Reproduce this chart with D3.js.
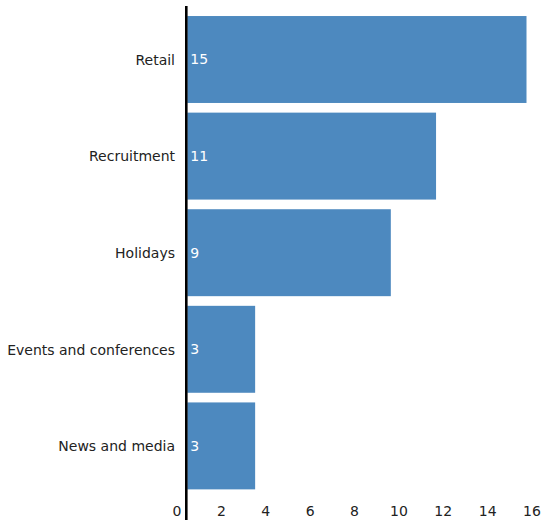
<!DOCTYPE html>
<html>
<head>
<meta charset="utf-8">
<script src="https://cdn.jsdelivr.net/npm/d3@7"></script>
<style>
  html, body { margin: 0; padding: 0; background: #fff; }
  svg { display: block; font-family: "DejaVu Sans", Verdana, sans-serif; }
</style>
</head>
<body>
<svg id="chart" width="541" height="520"></svg>
<script>
// Sectors and their counts
const categories = ["Retail", "Recruitment", "Holidays", "Events and conferences", "News and media"];
const values = [15, 11, 9, 3, 3];
const tickValues = [0, 2, 4, 6, 8, 10, 12, 14, 16];

const svg = d3.select("#chart");
const W = 541, H = 520;
const axisX = 186.3;
const fontSize = "14px";

// Bar length scale
const x = d3.scaleLinear().domain([0, 15]).range([187.3, 526.5]);
// Scale for the bottom tick labels
const xTicks = d3.scaleLinear().domain([0, 16]).range([176.5, 531.5]);

const y = d3.scaleBand()
  .domain(categories)
  .range([11.2, 494.2])
  .paddingInner(0.1)
  .paddingOuter(0.05);

// Bars
svg.append("g")
  .selectAll("rect")
  .data(categories)
  .join("rect")
  .attr("x", x(0))
  .attr("y", d => y(d))
  .attr("width", (d, i) => x(values[i]) - x(0))
  .attr("height", y.bandwidth())
  .attr("fill", "#4d89bf");

// Value labels inside bars
svg.append("g")
  .selectAll("text")
  .data(categories)
  .join("text")
  .attr("x", x(0) + 3)
  .attr("y", d => y(d) + y.bandwidth() / 2)
  .attr("dy", "0.35em")
  .attr("fill", "#fff")
  .style("font-size", fontSize)
  .text((d, i) => values[i]);

// Category labels
svg.append("g")
  .selectAll("text")
  .data(categories)
  .join("text")
  .attr("x", 175)
  .attr("y", d => y(d) + y.bandwidth() / 2)
  .attr("dy", "0.38em")
  .attr("text-anchor", "end")
  .attr("fill", "#222")
  .style("font-size", fontSize)
  .text(d => d);

// Bottom tick labels (no domain or tick lines)
const xAxis = d3.axisBottom(xTicks).tickValues(tickValues).tickSize(0).tickPadding(0);
const gx = svg.append("g").attr("transform", "translate(0,506.5)").call(xAxis);
gx.select(".domain").remove();
gx.selectAll("text")
  .attr("fill", "#222")
  .style("font-size", fontSize)
  .style("font-family", "'DejaVu Sans', Verdana, sans-serif");

// Vertical baseline
svg.append("line")
  .attr("x1", axisX).attr("x2", axisX)
  .attr("y1", 6).attr("y2", H)
  .attr("stroke", "#000")
  .attr("stroke-width", 2.6);
</script>
</body>
</html>
